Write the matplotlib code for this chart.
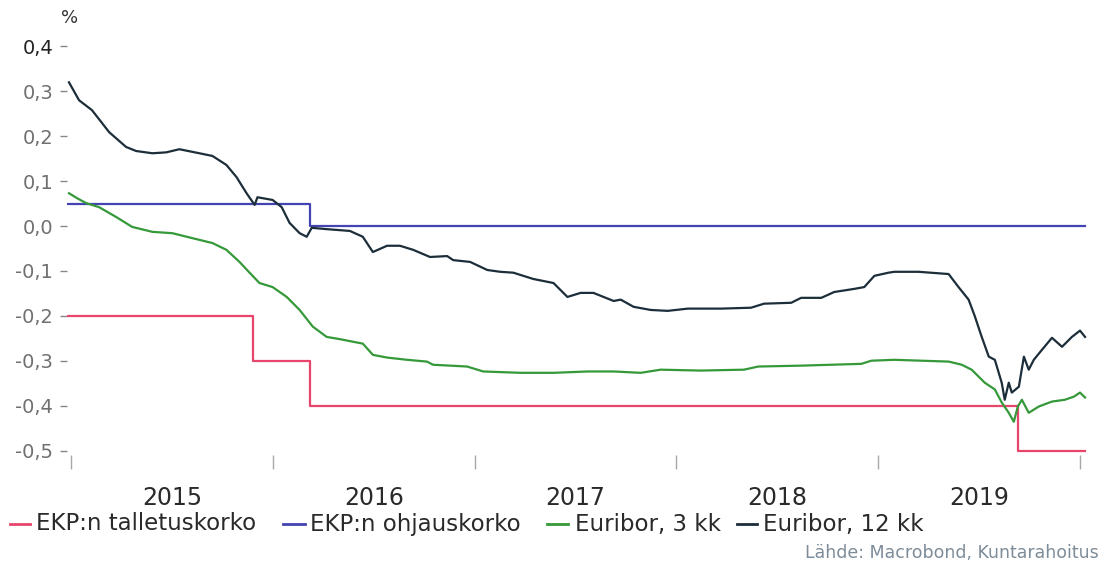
import matplotlib
matplotlib.use("Agg")
import matplotlib.pyplot as plt
from matplotlib.lines import Line2D
import numpy as np

# ---------------- data (decimal years, %) ----------------
years = [2015, 2016, 2017, 2018, 2019]
ytick_vals = [0.4, 0.3, 0.2, 0.1, 0.0, -0.1, -0.2, -0.3, -0.4, -0.5]
ytick_labels = ["0,4", "0,3", "0,2", "0,1", "0,0", "-0,1", "-0,2", "-0,3", "-0,4", "-0,5"]

# ECB deposit rate (step changes)
t_depo = [2014.985, 2015.900, 2016.183, 2019.692, 2020.025]
v_depo = [-0.20, -0.30, -0.40, -0.50, -0.50]

# ECB main refinancing rate
t_refi = [2014.985, 2016.183, 2020.025]
v_refi = [0.05, 0.00, 0.00]

# Euribor 3 months
t_e3 = [2014.990, 2015.030, 2015.075, 2015.139, 2015.224, 2015.303, 2015.403, 2015.502,
        2015.601, 2015.701, 2015.770, 2015.835, 2015.885, 2015.934, 2015.999, 2016.069,
        2016.133, 2016.198, 2016.267, 2016.332, 2016.446, 2016.496, 2016.566, 2016.665,
        2016.764, 2016.794, 2016.963, 2017.043, 2017.227, 2017.391, 2017.560, 2017.689,
        2017.823, 2017.922, 2018.121, 2018.335, 2018.405, 2018.618, 2018.917, 2018.966,
        2019.080, 2019.215, 2019.349, 2019.414, 2019.463, 2019.528, 2019.578, 2019.612,
        2019.647, 2019.672, 2019.692, 2019.712, 2019.746, 2019.796, 2019.861, 2019.925,
        2019.970, 2020.000, 2020.025]
v_e3 = [0.073, 0.062, 0.051, 0.042, 0.020, -0.002, -0.013, -0.016,
        -0.027, -0.038, -0.053, -0.080, -0.104, -0.127, -0.136, -0.158,
        -0.187, -0.224, -0.247, -0.252, -0.262, -0.287, -0.293, -0.298,
        -0.302, -0.309, -0.313, -0.324, -0.327, -0.327, -0.324, -0.324,
        -0.327, -0.320, -0.322, -0.320, -0.313, -0.311, -0.307, -0.300,
        -0.298, -0.300, -0.302, -0.309, -0.320, -0.349, -0.364, -0.393,
        -0.416, -0.436, -0.402, -0.387, -0.416, -0.402, -0.391, -0.387,
        -0.380, -0.371, -0.382]

# Euribor 12 months
t_e12 = [2014.990, 2015.040, 2015.104, 2015.189, 2015.273, 2015.323, 2015.403, 2015.472,
         2015.537, 2015.636, 2015.701, 2015.770, 2015.820, 2015.870, 2015.910, 2015.924,
         2015.999, 2016.044, 2016.083, 2016.133, 2016.168, 2016.193, 2016.267, 2016.382,
         2016.446, 2016.496, 2016.566, 2016.630, 2016.695, 2016.779, 2016.864, 2016.894,
         2016.978, 2017.063, 2017.127, 2017.192, 2017.291, 2017.391, 2017.460, 2017.525,
         2017.589, 2017.689, 2017.724, 2017.788, 2017.873, 2017.957, 2018.057, 2018.221,
         2018.370, 2018.434, 2018.569, 2018.618, 2018.718, 2018.782, 2018.882, 2018.931,
         2018.981, 2019.051, 2019.080, 2019.200, 2019.349, 2019.398, 2019.448, 2019.478,
         2019.513, 2019.548, 2019.578, 2019.612, 2019.627, 2019.647, 2019.662, 2019.697,
         2019.722, 2019.746, 2019.771, 2019.811, 2019.861, 2019.911, 2019.960, 2020.000,
         2020.025]
v_e12 = [0.320, 0.280, 0.258, 0.209, 0.176, 0.167, 0.162, 0.164,
         0.171, 0.162, 0.156, 0.136, 0.109, 0.073, 0.047, 0.064,
         0.058, 0.042, 0.007, -0.016, -0.024, -0.004, -0.007, -0.011,
         -0.024, -0.058, -0.044, -0.044, -0.053, -0.069, -0.067, -0.076,
         -0.080, -0.098, -0.102, -0.104, -0.118, -0.127, -0.158, -0.149,
         -0.149, -0.167, -0.164, -0.180, -0.187, -0.189, -0.184, -0.184,
         -0.182, -0.173, -0.171, -0.160, -0.160, -0.147, -0.140, -0.136,
         -0.111, -0.104, -0.102, -0.102, -0.107, -0.136, -0.164, -0.200,
         -0.247, -0.291, -0.298, -0.349, -0.387, -0.349, -0.371, -0.358,
         -0.291, -0.320, -0.298, -0.276, -0.249, -0.269, -0.247, -0.233,
         -0.247]

labels = ["EKP:n talletuskorko", "EKP:n ohjauskorko", "Euribor, 3 kk", "Euribor, 12 kk"]
colors = ["#e8456c", "#4343b2", "#35993a", "#1c2e3a"]

# ---------------- figure ----------------
W, H = 1120, 562
fig = plt.figure(figsize=(W / 100, H / 100), dpi=100)
plt.rcParams['font.family'] = ['DejaVu Sans']

ax_l, ax_r, ax_t, ax_b = 67, 1090, 30, 455
ax = fig.add_axes([ax_l / W, 1 - ax_b / H, (ax_r - ax_l) / W, (ax_b - ax_t) / H])

x0px, slope = 71.0, 201.8  # pixel of 2015.0, px per year
ax.set_xlim(2015 + (ax_l - x0px) / slope, 2015 + (ax_r - x0px) / slope)
ypx0, ypx_per = 226.0, 449.0
ax.set_ylim((ypx0 - ax_b) / ypx_per, (ypx0 - ax_t) / ypx_per)

lw = 1.6
ax.plot(t_depo, v_depo, drawstyle="steps-post", color=colors[0], lw=lw)
ax.plot(t_refi, v_refi, drawstyle="steps-post", color=colors[1], lw=lw)
ax.plot(t_e3, v_e3, color=colors[2], lw=lw)
ax.plot(t_e12, v_e12, color=colors[3], lw=lw)

for s in ax.spines.values():
    s.set_visible(False)

ax.set_yticks(ytick_vals)
ax.set_yticklabels(ytick_labels)
ax.tick_params(axis="y", length=5, width=1, color="#888888", labelcolor="#707070",
               labelsize=14, pad=5)
ax.get_yticklabels()[0].set_color("#222222")

# year boundaries as tick marks, labels at mid-year
ax.set_xticks([y for y in years] + [years[-1] + 1])
ax.set_xticklabels([])
ax.tick_params(axis="x", which="major", direction="out", length=10, width=1, color="#a8a8a8")
ax.set_xticks([y + 0.5 for y in years], minor=True)
ax.set_xticklabels([str(y) for y in years], minor=True)
ax.tick_params(axis="x", which="minor", length=0, labelsize=17, labelcolor="#2a2a2a", pad=22)

fig.text(70 / W, 1 - 18 / H, "%", fontsize=13, color="#333333", ha="center", va="center")

# legend entries laid out like the reference
leg_y = 1 - 524 / H
handle_px = [(10, 30), (283, 305), (547, 568), (737, 757)]
text_px = [36, 310, 575, 763]
for (h0, h1), tx, lab, col in zip(handle_px, text_px, labels, colors):
    fig.add_artist(Line2D([h0 / W, h1 / W], [leg_y, leg_y], color=col, lw=2,
                          transform=fig.transFigure))
    fig.text(tx / W, leg_y, lab, fontsize=16.5, color="#2a2a2a", ha="left", va="center")

fig.text(805 / W, 1 - 553 / H, "Lähde: Macrobond, Kuntarahoitus", fontsize=12.5,
         color="#7d8c99", ha="left", va="center")

fig.savefig("out.png", dpi=100, facecolor="white")
